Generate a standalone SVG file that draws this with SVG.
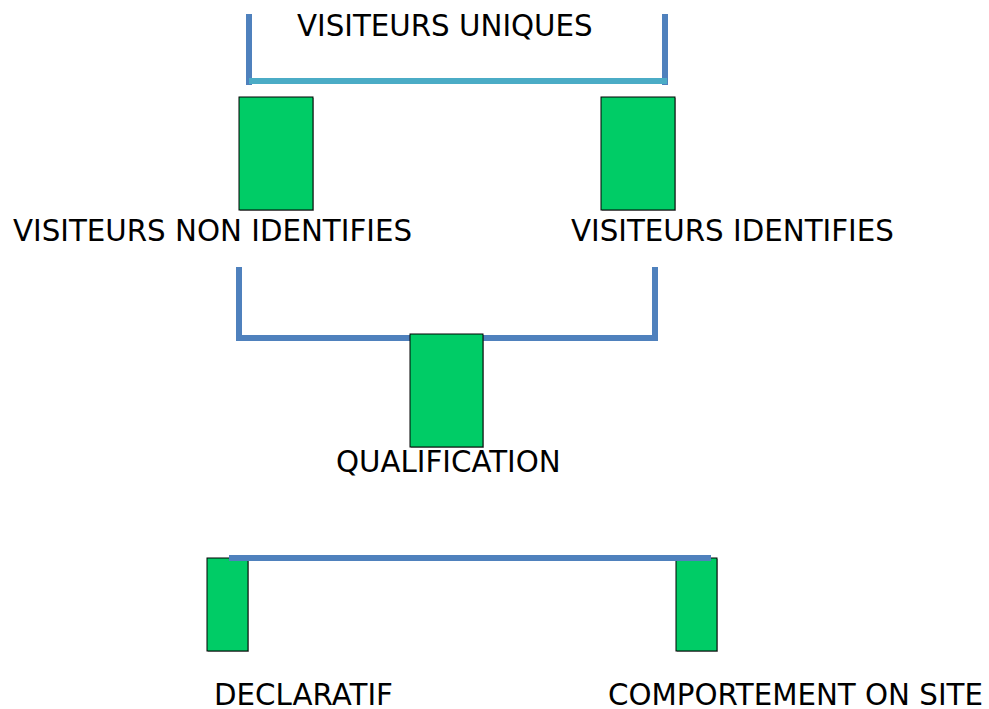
<svg xmlns="http://www.w3.org/2000/svg" width="989" height="709" viewBox="0 0 989 709">
<style>
.box{fill:#00CC66;stroke:#000;stroke-width:1}
.sh{fill:#555;opacity:0.5}
.lbl{font-family:"DejaVu Sans",sans-serif;font-size:29.3px;fill:#000}
.blue{stroke:#4F81BD;stroke-width:6;fill:none}
.cyan{stroke:#4BACC6;stroke-width:6;fill:none}
</style>
<rect width="989" height="709" fill="#fff"/>
<g id="connectors">
<line class="blue" x1="249" y1="14" x2="249" y2="85"/>
<line class="blue" x1="665" y1="14" x2="665" y2="85"/>
<line class="cyan" x1="249" y1="81" x2="667" y2="81"/>
<line class="blue" x1="239" y1="267" x2="239" y2="340"/>
<line class="blue" x1="655" y1="267" x2="655" y2="340"/>
<line class="blue" x1="236" y1="338" x2="658" y2="338"/>
</g>
<g id="visiteurs-uniques">
<text class="lbl" x="297" y="36">VISITEURS UNIQUES</text>
</g>
<g id="non-identifies">
<rect class="sh" x="240" y="98" width="74" height="113"/>
<rect class="box" x="239" y="97" width="74" height="113"/>
<text class="lbl" x="13" y="241">VISITEURS NON IDENTIFIES</text>
</g>
<g id="identifies">
<rect class="sh" x="602" y="98" width="74" height="113"/>
<rect class="box" x="601" y="97" width="74" height="113"/>
<text class="lbl" x="571" y="241">VISITEURS IDENTIFIES</text>
</g>
<g id="qualification">
<rect class="sh" x="411" y="335" width="73" height="113"/>
<rect class="box" x="410" y="334" width="73" height="113"/>
<text class="lbl" x="336" y="472">QUALIFICATION</text>
</g>
<g id="declaratif">
<rect class="sh" x="208" y="559" width="41" height="93"/>
<rect class="box" x="207" y="558" width="41" height="93"/>
<text class="lbl" x="214" y="705">DECLARATIF</text>
</g>
<g id="comportement">
<rect class="sh" x="677" y="559" width="41" height="93"/>
<rect class="box" x="676" y="558" width="41" height="93"/>
<text class="lbl" x="608" y="705">COMPORTEMENT ON SITE</text>
</g>
<g id="bottom-connector">
<line class="blue" x1="229" y1="558" x2="711" y2="558"/>
</g>
</svg>
